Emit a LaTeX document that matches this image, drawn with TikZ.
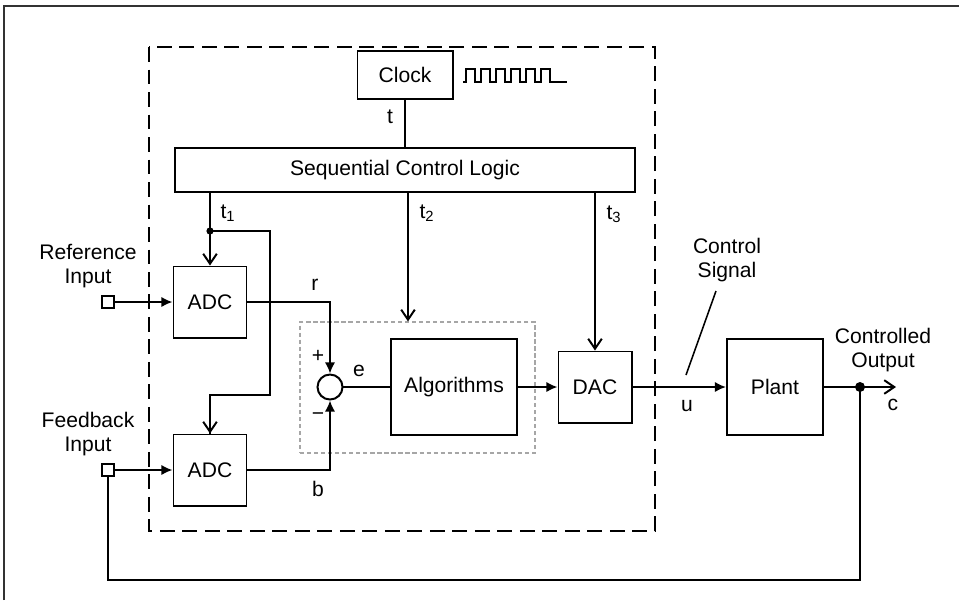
\documentclass[tikz,border=0pt]{standalone}
\usepackage{fontspec}
\setmainfont{Liberation Sans}
\usetikzlibrary{arrows.meta,positioning}

\begin{document}
\begin{tikzpicture}[
x=0.025cm, y=-0.025cm,
font=\fontsize{15}{17.5}\selectfont,
line width=1.4pt,
block/.style={draw, inner sep=0pt, align=center},
adcbox/.style={block, minimum width=1.825cm, minimum height=1.775cm},
port/.style={draw, line width=1.1pt, minimum size=0.3cm, inner sep=0pt},
sumnode/.style={draw, circle, minimum size=0.625cm, inner sep=0pt},
lbl/.style={inner sep=1pt, align=center},
sig/.style={-{Latex[length=2.8mm,width=2.6mm]}},
clk/.style={-{Straight Barb[length=2.5mm,width=3.4mm]}},
>=Latex
]
\useasboundingbox (0,0) rectangle (959,600);
\draw[line width=1.1pt, black!80] (4,600) -- (4,6) -- (959,6);

% controller boundary
\draw[dash pattern=on 10.5pt off 5.5pt] (149,47) rectangle (655,531);

\node[block, minimum width=2.375cm, minimum height=1.2cm] (clock) at (405,75) {Clock};
\node[block, minimum width=11.5cm, minimum height=1.1cm] (scl) at (405,170) {Sequential Control Logic};
\node[adcbox] (adcr) at (210,302) {ADC};
\node[adcbox] (adcf) at (210,470) {ADC};
\node[draw=gray!70, line width=0.8pt, dash pattern=on 3pt off 2pt, minimum width=5.875cm, minimum height=3.275cm] (grp) at (417.5,387.5) {};
\node[sumnode] (sum) at (330,387) {};
\node[block, minimum width=3.15cm, minimum height=2.4cm] (alg) at (454,387) {Algorithms};
\node[adcbox] (dac) at (595,387) {DAC};
\node[block, minimum width=2.4cm, minimum height=2.4cm] (plant) at (775,387) {Plant};

\node[port] (refin) at (108,302) {};
\node[port] (fbin) at (108,470) {};
\node[lbl] (reflbl) at (88,266) {Reference\\Input};
\node[lbl] (fblbl) at (88,434) {Feedback\\Input};
\node[lbl] (ctrl) at (727,260) {Control\\Signal};
\node[lbl] (outlbl) at (883,350) {Controlled\\Output};

% clock pulses
\draw[line width=1.1pt] (463,82) -- (466,82)
  foreach \p in {1,...,6} { -- ++(0,-13) -- ++(9,0) -- ++(0,13) -- ++(6,0) } -- (567,82);

\coordinate (tone) at (210,231);
\coordinate (tbend) at (270,231);
\coordinate (tdown) at (270,395);
\coordinate (ttwo) at (408,192);
\coordinate (tap) at (860,387);
\coordinate (cout) at (896,387);
\coordinate (loop) at (860,580);
\coordinate (leadtop) at (716,291);
\coordinate (leadbot) at (686,375);

\draw (clock.south) -- (clock.south |- scl.north);
\draw[clk] (scl.south -| adcr.north) -- (adcr.north);
\draw (tone) -- (tbend) -- (tdown) -| (adcf.north);
\draw[clk] (tdown -| adcf.north) -- (adcf.north);
\fill (tone) circle (0.09cm);
\draw[clk] (ttwo) -- (ttwo |- grp.north);
\draw[clk] (scl.south -| dac.north) -- (dac.north);

\draw[sig] (refin.east) -- (adcr.west);
\draw[sig] (fbin.east) -- (adcf.west);
\draw[sig] (adcr.east) -| (sum.north);
\draw[sig] (adcf.east) -| (sum.south);
\draw (sum.east) -- (alg.west);
\draw[sig] (alg.east) -- (dac.west);
\draw[sig] (dac.east) -- (plant.west);
\draw[clk] (plant.east) -- (cout);
\fill (tap) circle (0.125cm);
\draw (fbin.south) |- (loop) -- (tap);
\draw[line width=1.1pt] (leadtop) -- (leadbot);

\node[lbl] at (390,117) {t};
\node[lbl] at (228,213) {t\textsubscript{1}};
\node[lbl] at (427,213) {t\textsubscript{2}};
\node[lbl] at (614,214) {t\textsubscript{3}};
\node[lbl] at (315,285) {r};
\node[lbl] at (318,489) {b};
\node[lbl] at (318,356) {+};
\node[lbl] at (318,417) {−};
\node[lbl] at (359,371) {e};
\node[lbl] at (687,406) {u};
\node[lbl] at (893,405) {c};
\end{tikzpicture}
\end{document}
